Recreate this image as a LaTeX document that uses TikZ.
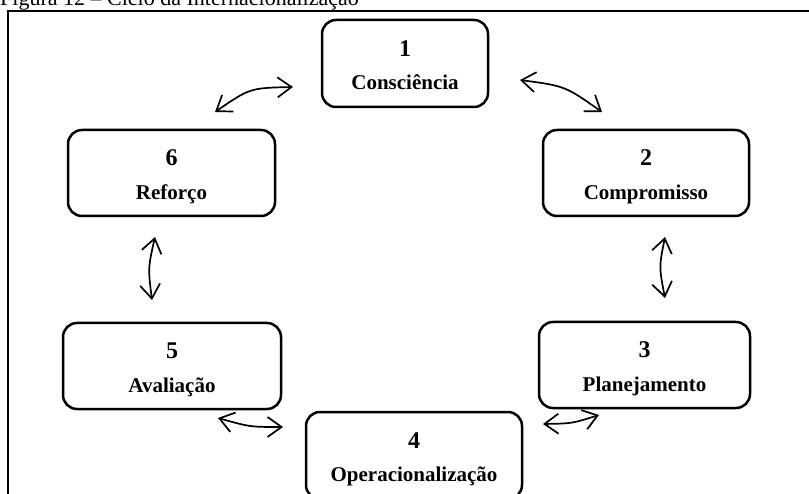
\documentclass[tikz,border=0pt]{standalone}
\usepackage{fontspec}
\setmainfont{Liberation Serif}
\usetikzlibrary{arrows.meta}

% two-line stage label: number on top, name below
\newcommand{\stagetext}[2]{\rule{0pt}{23.1pt}{\fontsize{24}{24}\selectfont #1}\\#2\vphantom{ç}}

\begin{document}
\begin{tikzpicture}[x=1pt,y=-1pt,
  stage/.style={draw, line width=2.5pt, rounded corners=14pt, inner sep=0pt,
    align=center, font=\fontsize{21}{33.4}\selectfont\bfseries},
  link/.style={line width=1.7pt,
    {Straight Barb[length=14pt,width=20pt]}-{Straight Barb[length=14pt,width=20pt]}},
  frame/.style={line width=2pt}]

\useasboundingbox (0,0) rectangle (809,494);
\clip (0,0) rectangle (809,494);

% caption and outer frame
\node[anchor=base west, inner sep=0pt, font=\fontsize{22}{22}\selectfont]
  (caption) at (0,5.5) {Figura 12 – Ciclo da Internacionalização};
\draw[frame] (8,530) |- (840,11);

% the six stages of the cycle
\node[stage, minimum width=166pt, minimum height=87pt] (s1) at (405,63.5) {\stagetext{1}{Consciência}};
\node[stage, minimum width=206pt, minimum height=86pt] (s2) at (646,173) {\stagetext{2}{Compromisso}};
\node[stage, minimum width=211pt, minimum height=86pt] (s3) at (644.5,365) {\stagetext{3}{Planejamento}};
\node[stage, minimum width=216pt, minimum height=87pt] (s4) at (414,455.5) {\stagetext{4}{Operacionalização}};
\node[stage, minimum width=218pt, minimum height=86pt] (s5) at (172,366) {\stagetext{5}{Avaliação}};
\node[stage, minimum width=207pt, minimum height=86pt] (s6) at (171.5,173) {\stagetext{6}{Reforço}};

% end points of the double-headed links
\coordinate (l12a) at (520,80);   \coordinate (l12b) at (602,112);
\coordinate (l23a) at (665,237);  \coordinate (l23b) at (665,298);
\coordinate (l34a) at (599,415);  \coordinate (l34b) at (543,424);
\coordinate (l45a) at (283,427);  \coordinate (l45b) at (218,418);
\coordinate (l56a) at (152,300);  \coordinate (l56b) at (155,237);
\coordinate (l61a) at (215,112);  \coordinate (l61b) at (293,87);

\draw[link] (l12a) .. controls (565,86) .. (l12b);
\draw[link] (l23a) .. controls (659,267) .. (l23b);
\draw[link] (l34a) .. controls (572,423.5) .. (l34b);
\draw[link] (l45a) .. controls (250,427) .. (l45b);
\draw[link] (l56a) .. controls (148,268) .. (l56b);
\draw[link] (l61a) .. controls (250,88) .. (l61b);

\end{tikzpicture}
\end{document}
